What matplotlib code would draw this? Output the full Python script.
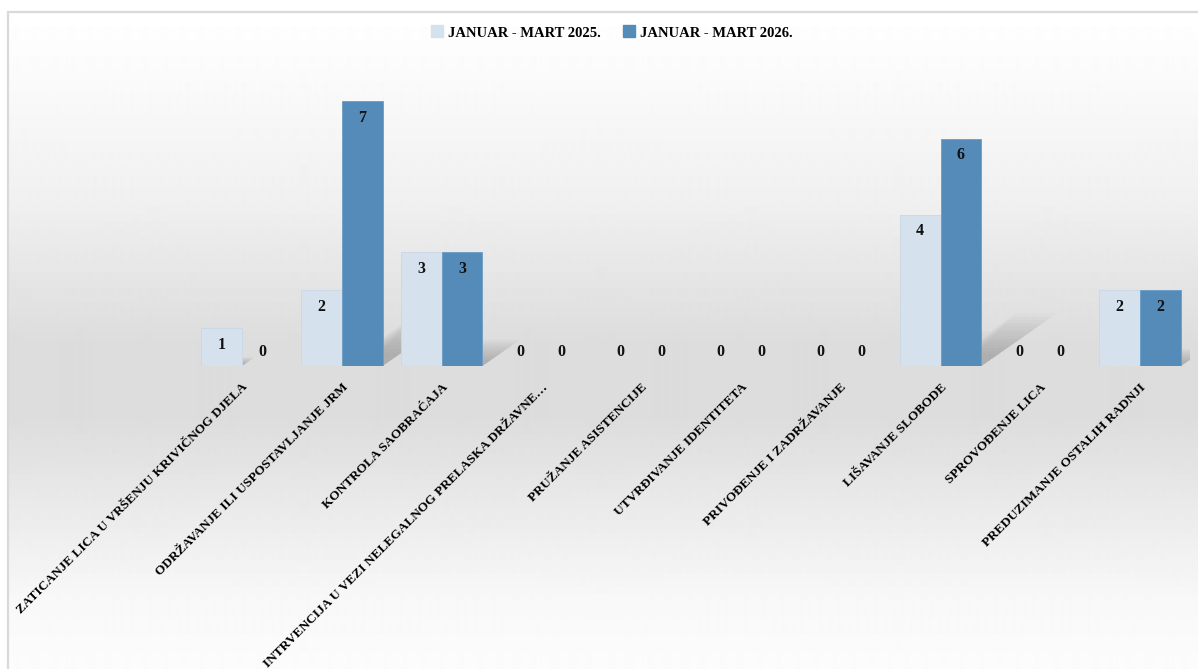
import numpy as np
import matplotlib
matplotlib.use("Agg")
import matplotlib.pyplot as plt
from matplotlib.patches import Polygon, Rectangle
from matplotlib.lines import Line2D

# ── data ─────────────────────────────────────────────────────────────────────
categories = [
    "ZATICANJE LICA U VRŠENJU KRIVIČNOG DJELA",
    "ODRŽAVANJE ILI USPOSTAVLJANJE JRM",
    "KONTROLA SAOBRAĆAJA",
    "INTRVENCIJA U VEZI NELEGALNOG PRELASKA DRŽAVNE…",
    "PRUŽANJE ASISTENCIJE",
    "UTVRĐIVANJE IDENTITETA",
    "PRIVOĐENJE I ZADRŽAVANJE",
    "LIŠAVANJE SLOBODE",
    "SPROVOĐENJE LICA",
    "PREDUZIMANJE OSTALIH RADNJI",
]
series_names = ["JANUAR - MART 2025.", "JANUAR - MART 2026."]
vals_2025 = [1, 2, 3, 0, 0, 0, 0, 4, 0, 2]
vals_2026 = [0, 7, 3, 0, 0, 0, 0, 6, 0, 2]

# ── style ────────────────────────────────────────────────────────────────────
W, H = 1198, 669
FONT = ["Liberation Serif", "DejaVu Serif"]
C_LIGHT = "#d5e2ee"
C_DARK = "#558bb9"
BAR_W = 0.41

plt.rcParams["font.family"] = FONT
plt.rcParams["font.weight"] = "bold"

fig = plt.figure(figsize=(W / 100, H / 100), dpi=100)

# background: framed area with vertical grey gradient
bg = fig.add_axes([8 / W, 0, 1 - 8 / W, 1 - 12 / H], zorder=-5)
py = np.arange(12, H)
grey = np.interp(py, [12, 70, 200, 340, 420, 520, 600, 669],
                 [255, 251, 240, 221, 221, 236, 248, 252]) / 255
img = np.repeat(grey[:, None], 2, axis=1)
bg.imshow(img, cmap="gray", vmin=0, vmax=1, aspect="auto",
          extent=[0, 1, 0, 1], interpolation="bilinear")
bg.set_axis_off()
fig.patches.append(Rectangle((8 / W, -0.01), 1, 1 - 12 / H + 0.01,
                             transform=fig.transFigure, fill=False,
                             edgecolor="#d9d9d9", lw=1.6, zorder=-4))

ax = fig.add_axes([192 / W, (H - 366) / H, 998 / W, 303 / H])
ax.set_facecolor("none")
x = np.arange(len(categories))

# soft perspective shadows behind bars
for vals, off in ((vals_2025, -BAR_W), (vals_2026, 0.0)):
    for xi, v in zip(x, vals):
        if v <= 0:
            continue
        x0, x1 = xi + off, xi + off + BAR_W
        for i in range(14):
            f = 1 - i * 0.06
            dx, dy = 0.125 * v * f, 0.23 * v * f
            ax.add_patch(Polygon([(x0 + 0.015 * i, 0), (x1, 0), (x1 + dx, dy),
                                  (x0 + dx + 0.015 * i, dy)],
                                 closed=True, facecolor="#505050", edgecolor="none",
                                 alpha=0.025, zorder=1))

b1 = ax.bar(x - BAR_W / 2, vals_2025, BAR_W, color=C_LIGHT,
            edgecolor="#c9d7e5", lw=0.6, zorder=3)
b2 = ax.bar(x + BAR_W / 2, vals_2026, BAR_W, color=C_DARK,
            edgecolor="#6b9cc6", lw=0.6, zorder=3)

for bars, vals in ((b1, vals_2025), (b2, vals_2026)):
    for rect, v in zip(bars, vals):
        cx = rect.get_x() + rect.get_width() / 2
        off = -12 if v > 0 else 10
        ax.annotate(str(v), (cx, v), xytext=(0, off), textcoords="offset points",
                    ha="center", va="center", fontsize=11.5, fontweight="bold",
                    color="#111111", zorder=5)

ax.set_xlim(-0.5, len(categories) - 0.5)
ax.set_ylim(0, 8)
ax.set_yticks([])
ax.set_xticks(x)
ax.set_xticklabels(categories, rotation=45, ha="right", rotation_mode="anchor",
                   fontsize=9.6, fontweight="bold")
ax.tick_params(axis="x", length=0, pad=11)
for s in ax.spines.values():
    s.set_visible(False)

handles = [Line2D([], [], marker="s", ls="none", markersize=8,
                  markerfacecolor=c, markeredgecolor=c) for c in (C_LIGHT, C_DARK)]
fig.legend(handles, series_names, loc="center", bbox_to_anchor=(612 / W, 1 - 33 / H),
           ncol=2, frameon=False, prop={"family": FONT, "weight": "bold", "size": 10.5},
           handletextpad=0.35, columnspacing=1.5, handlelength=0.8)

fig.savefig("out.png", dpi=100)
